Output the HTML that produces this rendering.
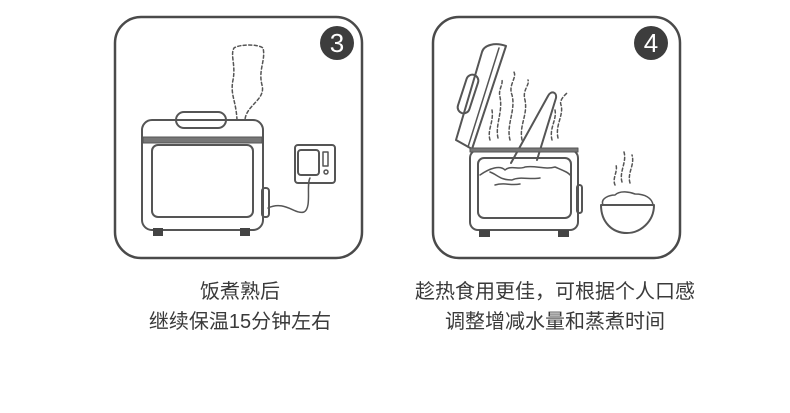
<!DOCTYPE html>
<html><head><meta charset="utf-8"><style>
body{margin:0;background:#fff;width:790px;height:413px;overflow:hidden;position:relative;font-family:"Liberation Sans","Noto Sans CJK SC",sans-serif;color:#3a3a3a}
.t{position:absolute;font-size:20px;line-height:30px;text-align:center;white-space:nowrap}
</style></head><body>
<svg width="790" height="413" style="position:absolute;left:0;top:0" fill="none" stroke="#555" stroke-width="2" stroke-linejoin="round" stroke-linecap="round">
<!-- panel 3 -->
<rect x="115" y="17" width="247" height="241" rx="26" stroke="#4a4a4a" stroke-width="2.5"/>
<circle cx="337" cy="43" r="17" fill="#3d3d3d" stroke="none"/>
<text x="337" y="52" font-size="26" fill="#fff" stroke="none" text-anchor="middle" font-family="Liberation Sans">3</text>
<path d="M237 120 C236 100 230 95 233 80 C236 65 230 55 234 48 C240 44 258 44 263 48 C266 60 258 70 262 85 C266 100 246 105 245 120" stroke-dasharray="3 2.5" stroke-width="1.5"/>
<rect x="176" y="112" width="50" height="16" rx="8"/>
<rect x="142" y="120" width="121" height="110" rx="10"/>
<rect x="143" y="137" width="119" height="6" fill="#777" stroke="#555" stroke-width="1"/>
<rect x="152" y="145" width="101" height="72" rx="6"/>
<rect x="153" y="228" width="10" height="8" fill="#444" stroke="none"/>
<rect x="240" y="228" width="10" height="8" fill="#444" stroke="none"/>
<rect x="262" y="188" width="7" height="29" rx="3"/>
<path d="M268 208 C285 200 295 215 304 212 C312 208 306 185 310 178" stroke-width="1.5"/>
<rect x="295" y="145" width="40" height="38" rx="3"/>
<rect x="298" y="150" width="21" height="25" rx="3"/>
<rect x="323" y="152" width="5" height="14" stroke-width="1.5"/>
<circle cx="326" cy="172" r="2" stroke-width="1.5"/>
<!-- panel 4 -->
<rect x="433" y="17" width="247" height="241" rx="26" stroke="#4a4a4a" stroke-width="2.5"/>
<circle cx="651" cy="43" r="17" fill="#3d3d3d" stroke="none"/>
<text x="651" y="52" font-size="26" fill="#fff" stroke="none" text-anchor="middle" font-family="Liberation Sans">4</text>
<path d="M456 140 L482 52 C484 45 495 42 506 46 L472 149 Z"/>
<path d="M499 48 L468 147" stroke-width="1.5"/>
<rect x="462" y="74" width="12" height="40" rx="6" transform="rotate(18 468 94)"/>
<g stroke-dasharray="3 2.5" stroke-width="1.5">
<path d="M490 140 C487 130 494 122 492 110"/>
<path d="M498 138 C495 125 503 112 500 97 C498 90 503 85 502 80"/>
<path d="M510 140 C506 125 516 110 512 95 C508 85 517 78 514 72"/>
<path d="M522 140 C519 125 528 115 525 100 C522 90 530 85 528 80"/>
<path d="M552 140 C549 128 557 120 555 110"/>
<path d="M558 138 C555 125 564 115 561 105 C559 100 565 95 568 92"/>
<path d="M615 185 C612 178 618 172 616 165"/>
<path d="M622 182 C619 172 627 162 624 152"/>
<path d="M630 183 C627 173 635 165 632 155"/>
</g>
<path d="M511 163 L548 96 C551 90 557 92 556 98 L537 160" fill="#fff"/>
<rect x="470" y="150" width="108" height="80" rx="8"/>
<rect x="470" y="148" width="108" height="4" fill="#777" stroke="#555" stroke-width="1"/>
<rect x="478" y="158" width="93" height="60" rx="6"/>
<path d="M480 175 C490 168 500 165 505 170 C510 165 520 170 525 167 C535 165 545 170 555 167 C562 170 568 172 570 175 M490 172 C498 175 500 180 512 180 C520 176 530 180 540 178 M495 185 C505 182 510 186 520 184" stroke-width="1.5"/>
<rect x="479" y="230" width="11" height="7" fill="#444" stroke="none"/>
<rect x="558" y="230" width="11" height="7" fill="#444" stroke="none"/>
<rect x="577" y="185" width="5" height="28" rx="2.5"/>
<path d="M603 205 C600 198 610 195 615 195 C620 190 630 192 635 194 C645 194 652 198 653 205" stroke-width="1.5"/>
<path d="M601 205 L654 205 C654 222 640 233 627 233 C612 233 601 222 601 205 Z"/>
</svg>
<div class="t" style="left:110px;top:277px;width:260px">饭煮熟后</div>
<div class="t" style="left:110px;top:307px;width:260px">继续保温15分钟左右</div>
<div class="t" style="left:405px;top:277px;width:300px">趁热食用更佳，可根据个人口感</div>
<div class="t" style="left:405px;top:307px;width:300px">调整增减水量和蒸煮时间</div>
</body></html>
